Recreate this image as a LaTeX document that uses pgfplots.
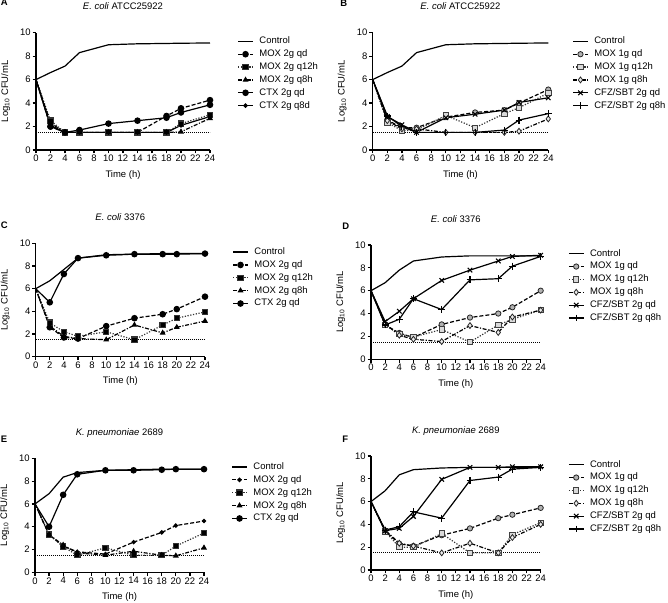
\documentclass[border=0pt]{standalone}
\usepackage{pgfplots}
\pgfplotsset{compat=1.18}
\usepackage{pgfplotstable}
\usepackage{fontspec}
\setmainfont{Liberation Sans}

\newcommand\fs{\fontsize{7.1}{8.5}\selectfont}

\pgfplotstableread{
t ctrl mqd mq12 mq8 cqd cq8
0 6.0 6.0 6.0 6.0 6.0 6.0
2 6.6 2.0 2.5 2.3 2.0 2.1
4 7.15 1.5 1.5 1.5 1.5 1.5
6 8.3 1.5 1.5 1.5 1.7 1.5
10 8.97 1.5 1.5 1.5 2.25 1.5
14 9.05 1.5 1.5 1.5 2.5 1.5
18 9.08 2.9 1.5 1.5 2.75 1.5
20 9.1 3.55 2.25 1.55 3.2 2.1
24 9.12 4.25 3.0 2.7 3.85 2.85
}\dataA
\pgfplotstableread{
t ctrl mqd mq12 mq8 cqd cq8
0 6.0 6.0 6.0 6.0 6.0 6.0
2 6.6 2.55 2.35 2.5 2.85 2.9
4 7.15 1.9 1.65 1.8 2.15 2.0
6 8.3 1.9 1.7 1.8 1.5 1.5
10 8.97 2.8 2.95 1.5 2.75 1.5
14 9.05 3.2 1.9 1.5 3.05 1.5
18 9.08 3.4 3.1 1.5 3.4 1.7
20 9.1 4.0 3.6 1.6 4.05 2.55
24 9.12 5.15 4.85 2.65 4.45 3.1
}\dataB
\pgfplotstableread{
t ctrl mqd mq12 mq8 cqd
0 6.0 6.0 6.0 6.0 6.0
2 6.7 2.6 3.0 2.7 4.8
4 7.7 1.7 2.2 1.8 7.3
6 8.7 1.6 1.8 1.6 8.7
10 9.0 2.7 2.2 1.5 8.95
14 9.05 3.4 1.5 2.8 9.05
18 9.1 3.75 2.8 2.1 9.05
20 9.1 4.2 3.4 2.6 9.05
24 9.1 5.3 3.95 3.15 9.1
}\dataC
\pgfplotstableread{
t ctrl mqd mq12 mq8 cqd cq8
0 6.0 6.0 6.0 6.0 6.0 6.0
2 6.7 3.0 3.0 3.1 3.3 3.0
4 7.8 2.3 2.2 2.1 4.2 3.5
6 8.6 1.9 1.95 1.75 5.3 5.3
10 8.95 3.05 2.6 1.55 6.9 4.35
14 9.05 3.65 1.5 2.95 7.8 6.95
18 9.05 4.0 3.0 2.35 8.6 7.05
20 9.05 4.55 3.5 3.7 9.0 8.15
24 9.05 6.0 4.3 4.3 9.1 9.0
}\dataD
\pgfplotstableread{
t ctrl mqd mq12 mq8 cqd
0 6.0 6.0 6.0 6.0 6.0
2 6.9 3.3 3.3 3.3 4.0
4 8.35 2.3 2.25 2.4 6.8
6 8.75 1.8 1.5 1.7 8.6
10 8.95 1.6 2.15 1.5 8.95
14 9.0 2.65 1.5 1.85 8.95
18 9.05 3.5 1.5 1.5 9.0
20 9.05 4.1 2.3 1.45 9.05
24 9.05 4.5 3.45 2.15 9.05
}\dataE
\pgfplotstableread{
t ctrl mqd mq12 mq8 cqd cq8
0 6.0 6.0 6.0 6.0 6.0 6.0
2 6.95 3.4 3.4 3.5 3.45 3.5
4 8.35 2.3 2.0 2.35 3.65 3.8
6 8.8 2.1 2.0 2.1 4.7 5.1
10 8.95 3.05 3.2 1.5 7.95 4.55
14 9.0 3.65 1.5 2.35 9.0 7.85
18 9.0 4.55 1.5 1.5 9.0 8.15
20 9.0 4.85 3.1 2.85 9.05 8.85
24 9.0 5.45 4.15 4.0 9.05 9.0
}\dataF

\pgfplotsset{
  prism/.style={
    scale only axis, axis lines=left,
    axis line style={-, line width=0.9pt},
    xmin=0, xmax=24, ymin=0, ymax=10,
    xtick={0,2,...,24}, ytick={0,2,...,10},
    tick align=outside, major tick length=2.6pt,
    tick style={black, line width=0.9pt},
    /pgf/number format/assume math mode=true,
    tick label style={font=\fs},
    xticklabel style={inner sep=1pt},
    yticklabel style={inner sep=1.2pt},
    xlabel={Time (h)}, ylabel={Log\textsubscript{10} CFU/mL},
    every axis x label/.style={at={(axis description cs:0.5,0)}, anchor=center, yshift=-18.5pt, font=\fs},
    every axis y label/.style={at={(axis description cs:0,0.5)}, anchor=center, xshift=-22.8pt, rotate=90, font=\fs},
    title style={at={(axis description cs:0.5,1)}, anchor=base, yshift=11pt, font=\fs},
    clip=false,
    legend cell align=left,
    legend style={at={(axis description cs:1,1)}, anchor=north west, xshift=20.5pt, yshift=-3pt,
      draw=none, fill=none, inner sep=0pt, font=\fs, row sep=3pt, column sep=4.5pt, nodes={inner sep=0pt}},
    legend image code/.code={\draw[mark repeat=2, mark phase=2, #1] plot coordinates {(0pt,0pt) (5.5pt,0pt) (11pt,0pt)};},
  },
  ctrl/.style={black, line width=0.9pt, no marks},
  lod/.style={black, line width=0.6pt, dash pattern=on 0.6pt off 0.9pt, forget plot, no marks},
  sqd/.style={black, line width=0.9pt, dash pattern=on 3pt off 1.5pt, mark phase=2},
  sq12/.style={black!80, line width=0.9pt, dash pattern=on 0.9pt off 1.2pt, mark phase=2},
  sq8/.style={black, line width=0.9pt, dash pattern=on 3pt off 1.2pt on 0.9pt off 1.2pt, mark phase=2},
  ssol/.style={black, line width=0.9pt, solid, mark phase=2},
  % filled markers (panels A, C, E)
  fcirc/.style={mark=*, mark size=2pt, mark options={solid, fill=black}},
  fsq/.style={mark=square*, mark size=2pt, mark options={solid, fill=black}},
  ftri/.style={mark=triangle*, mark size=1.7pt, mark options={solid, fill=black}},
  fdot/.style={mark=*, mark size=1.2pt, mark options={solid, fill=black}},
  % grey markers (panels B, D, F)
  gcirc/.style={mark=*, mark size=2pt, mark options={solid, fill=gray!60, draw=black!85, line width=0.6pt}},
  gsq/.style={mark=square*, mark size=2pt, mark options={solid, fill=gray!30, draw=black!75, line width=0.6pt}},
  gdia/.style={mark=diamond*, mark size=2.2pt, mark options={solid, fill=gray!15, draw=black!85, line width=0.6pt}},
  gx/.style={mark=x, mark size=2.4pt, mark options={solid, line width=0.8pt}},
  gplus/.style={mark=+, mark size=2.6pt, mark options={solid, line width=0.8pt}},
}

\begin{document}
\begin{tikzpicture}
\useasboundingbox (0,0) rectangle (501pt,452.25pt);

\node[anchor=base west, font=\bfseries\fs, inner sep=0pt] at (0.5pt,447.75pt) {A};
\node[anchor=base west, font=\bfseries\fs, inner sep=0pt] at (255pt,447pt) {B};
\node[anchor=base west, font=\bfseries\fs, inner sep=0pt] at (0.5pt,280.5pt) {C};
\node[anchor=base west, font=\bfseries\fs, inner sep=0pt] at (256.5pt,279.75pt) {D};
\node[anchor=base west, font=\bfseries\fs, inner sep=0pt] at (0.5pt,120pt) {E};
\node[anchor=base west, font=\bfseries\fs, inner sep=0pt] at (256.5pt,120pt) {F};

% ---------- A ----------
\begin{axis}[prism, at={(27pt,339.75pt)}, anchor=south west, width=130.5pt, height=88pt,
  title={\textit{E. coli} ATCC25922}]
\addplot[lod] coordinates {(0,1.5) (24,1.5)};
\addplot[ctrl] table[x=t,y=ctrl] {\dataA}; \addlegendentry{Control}
\addplot[sqd,fcirc] table[x=t,y=mqd] {\dataA}; \addlegendentry{MOX 2g qd}
\addplot[sq12,fsq] table[x=t,y=mq12] {\dataA}; \addlegendentry{MOX 2g q12h}
\addplot[sq8,ftri] table[x=t,y=mq8] {\dataA}; \addlegendentry{MOX 2g q8h}
\addplot[ssol,fcirc] table[x=t,y=cqd] {\dataA}; \addlegendentry{CTX 2g qd}
\addplot[ssol,fdot] table[x=t,y=cq8] {\dataA}; \addlegendentry{CTX 2g q8d}
\end{axis}

% ---------- B ----------
\begin{axis}[prism, at={(279.5pt,339.75pt)}, anchor=south west, width=131.7pt, height=88pt,
  title={\textit{E. coli} ATCC25922}, legend style={xshift=-2.5pt}]
\addplot[lod] coordinates {(0,1.5) (24,1.5)};
\addplot[ctrl] table[x=t,y=ctrl] {\dataB}; \addlegendentry{Control}
\addplot[sqd,gcirc] table[x=t,y=mqd] {\dataB}; \addlegendentry{MOX 1g qd}
\addplot[sq12,gsq] table[x=t,y=mq12] {\dataB}; \addlegendentry{MOX 1g q12h}
\addplot[sq8,gdia] table[x=t,y=mq8] {\dataB}; \addlegendentry{MOX 1g q8h}
\addplot[ssol,gx] table[x=t,y=cqd] {\dataB}; \addlegendentry{CFZ/SBT 2g qd}
\addplot[ssol,gplus] table[x=t,y=cq8] {\dataB}; \addlegendentry{CFZ/SBT 2g q8h}
\end{axis}

% ---------- C ----------
\begin{axis}[prism, at={(26.75pt,184.7pt)}, anchor=south west, width=127pt, height=85pt,
  title={\textit{E. coli} 3376}]
\addplot[lod] coordinates {(0,1.5) (24,1.5)};
\addplot[ctrl] table[x=t,y=ctrl] {\dataC}; \addlegendentry{Control}
\addplot[sqd,fcirc] table[x=t,y=mqd] {\dataC}; \addlegendentry{MOX 2g qd}
\addplot[sq12,fsq] table[x=t,y=mq12] {\dataC}; \addlegendentry{MOX 2g q12h}
\addplot[sq8,ftri] table[x=t,y=mq8] {\dataC}; \addlegendentry{MOX 2g q8h}
\addplot[ssol,fcirc] table[x=t,y=cqd] {\dataC}; \addlegendentry{CTX 2g qd}
\end{axis}

% ---------- D ----------
\begin{axis}[prism, at={(278.25pt,182.8pt)}, anchor=south west, width=127.25pt, height=85.7pt,
  title={\textit{E. coli} 3376}]
\addplot[lod] coordinates {(0,1.5) (24,1.5)};
\addplot[ctrl] table[x=t,y=ctrl] {\dataD}; \addlegendentry{Control}
\addplot[sqd,gcirc] table[x=t,y=mqd] {\dataD}; \addlegendentry{MOX 1g qd}
\addplot[sq12,gsq] table[x=t,y=mq12] {\dataD}; \addlegendentry{MOX 1g q12h}
\addplot[sq8,gdia] table[x=t,y=mq8] {\dataD}; \addlegendentry{MOX 1g q8h}
\addplot[ssol,gx] table[x=t,y=cqd] {\dataD}; \addlegendentry{CFZ/SBT 2g qd}
\addplot[ssol,gplus] table[x=t,y=cq8] {\dataD}; \addlegendentry{CFZ/SBT 2g q8h}
\end{axis}

% ---------- E ----------
\begin{axis}[prism, at={(26.25pt,23pt)}, anchor=south west, width=126.75pt, height=85.5pt,
  title={\textit{K. pneumoniae} 2689}]
\addplot[lod] coordinates {(0,1.5) (24,1.5)};
\addplot[ctrl] table[x=t,y=ctrl] {\dataE}; \addlegendentry{Control}
\addplot[sqd,fdot] table[x=t,y=mqd] {\dataE}; \addlegendentry{MOX 2g qd}
\addplot[sq12,fsq] table[x=t,y=mq12] {\dataE}; \addlegendentry{MOX 2g q12h}
\addplot[sq8,ftri] table[x=t,y=mq8] {\dataE}; \addlegendentry{MOX 2g q8h}
\addplot[ssol,fcirc] table[x=t,y=cqd] {\dataE}; \addlegendentry{CTX 2g qd}
\end{axis}

% ---------- F ----------
\begin{axis}[prism, at={(278.25pt,24.75pt)}, anchor=south west, width=127.25pt, height=85.5pt,
  title={\textit{K. pneumoniae} 2689}]
\addplot[lod] coordinates {(0,1.5) (24,1.5)};
\addplot[ctrl] table[x=t,y=ctrl] {\dataF}; \addlegendentry{Control}
\addplot[sqd,gcirc] table[x=t,y=mqd] {\dataF}; \addlegendentry{MOX 1g qd}
\addplot[sq12,gsq] table[x=t,y=mq12] {\dataF}; \addlegendentry{MOX 1g q12h}
\addplot[sq8,gdia] table[x=t,y=mq8] {\dataF}; \addlegendentry{MOX 1g q8h}
\addplot[ssol,gx] table[x=t,y=cqd] {\dataF}; \addlegendentry{CFZ/SBT 2g qd}
\addplot[ssol,gplus] table[x=t,y=cq8] {\dataF}; \addlegendentry{CFZ/SBT 2g q8h}
\end{axis}
\end{tikzpicture}
\end{document}
